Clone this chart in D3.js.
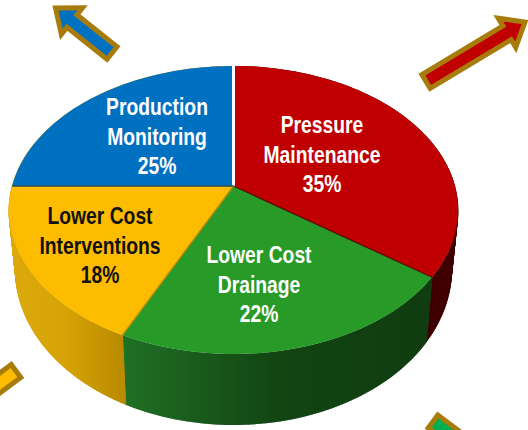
<!DOCTYPE html>
<html><head><meta charset="utf-8">
<script src="https://cdn.jsdelivr.net/npm/d3@7"></script>
<style>html,body{margin:0;padding:0;background:#fff}svg{display:block}
text{font-family:"Liberation Sans",Arial,sans-serif;font-weight:700}</style>
</head><body><svg id="c" width="528" height="430"></svg>
<script>
const categories = ["Pressure Maintenance","Lower Cost Drainage","Lower Cost Interventions","Production Monitoring"];
const labelLines = [["Pressure","Maintenance"],["Lower Cost","Drainage"],["Lower Cost","Interventions"],["Production","Monitoring"]];
const shares = [35,22,18,25];
const topColors = ["#c00000","#289a28","#fdbc00","#0070c0"];
const textColors = ["#fff","#fff","#111","#fff"];
const edgeColors = ["#ffffff","#5c0a00","#b58a10","#1f5060"];
const labelAnchors = [[322,133],[259,263],[100,224],[157,115]];
const svg = d3.select("#c");

// perspective pie: circle angle -> position on an ellipse with an off-centre apex
const e = 1/6;
const topX = d3.scaleLinear().domain([-1,1]).range([9,458]);
const topY = d3.scaleLinear().domain([-1,1]).range([354,66]);
const botX = d3.scaleLinear().domain([-1,1]).range([15.5,451.5]);
const botY = d3.scaleLinear().domain([-1,1]).range([425,115]);
const unit = a => {
  const d = 1+e*Math.cos(a);
  return [Math.sin(a)*Math.sqrt(1-e*e)/d,(Math.cos(a)+e)/d];
};
const topP = a => { const u=unit(a); return [topX(u[0]),topY(u[1])]; };
const botP = a => { const u=unit(a); return [botX(u[0]),botY(u[1])]; };
const apex = [topX(0),topY(e)];
const line = d3.line();
const pie = d3.pie().sort(null).value(d=>d)(shares);
const samples = (p,n=60) => d3.range(0,n+1).map(i=>p.startAngle+(p.endAngle-p.startAngle)*i/n);

// gradients for the wall
const defs = svg.append("defs");
const grad = (id,x1,x2,stops)=>{
  const g=defs.append("linearGradient").attr("id",id).attr("gradientUnits","userSpaceOnUse")
    .attr("x1",x1).attr("x2",x2).attr("y1",0).attr("y2",0);
  stops.forEach(s=>g.append("stop").attr("offset",s[0]).attr("stop-color",s[1]));
};
grad("w0",425,460,[[0,"#3e0000"],[1,"#3e0000"]]);
grad("w1",122,432,[[0,"#1f7125"],[.25,"#1a5a1c"],[.5,"#114512"],[1,"#103c10"]]);
grad("w2",9,125,[[0,"#dcaa0c"],[.5,"#d5a305"],[1,"#b98a00"]]);
grad("w3",9,233,[[0,"#dcaa0c"],[1,"#dcaa0c"]]);

// wall: filled band plus the ruled lines that carry its outline
const wall = svg.append("g").selectAll("g").data(pie).join("g");
wall.append("path")
  .attr("d",p=>{
    const A=samples(p);
    return line(A.map(topP).concat(A.slice().reverse().map(botP)))+"Z";
  })
  .attr("fill",(p,i)=>`url(#w${i})`);
wall.append("path")
  .attr("d",p=>samples(p,200).map(a=>line([topP(a),botP(a)])).join(""))
  .attr("fill","none")
  .attr("stroke",(p,i)=>`url(#w${i})`).attr("stroke-width",1);

// top face
svg.append("g").selectAll("path").data(pie).join("path")
  .attr("d",p=>line([apex].concat(samples(p).map(topP)))+"Z")
  .attr("fill",(p,i)=>topColors[i]);

// slice separators
svg.append("g").selectAll("line").data(pie).join("line")
  .attr("x1",apex[0]).attr("y1",apex[1])
  .attr("x2",p=>topP(p.startAngle)[0]).attr("y2",p=>topP(p.startAngle)[1])
  .attr("stroke",(p,i)=>edgeColors[i])
  .attr("stroke-width",(p,i)=>i===0?3:1.3);

// labels
const labels = svg.append("g").selectAll("g").data(pie).join("g")
  .attr("transform",(p,i)=>`translate(${labelAnchors[i][0]},${labelAnchors[i][1]}) scale(.84,1)`)
  .attr("fill",(p,i)=>textColors[i]).attr("font-size",23).attr("text-anchor","middle");
labels.selectAll("text").data((p,i)=>labelLines[i].concat([p.value+"%"])).join("text")
  .attr("y",(d,j)=>j*29.7).text(d=>d);

// decorative arrows
const arrows = [
  {tail:[112,53],tip:[55.5,8],fill:"#0070c0"},
  {tail:[426,81.5],tip:[525,22],fill:"#c00000"},
  {tail:[16,371],tip:[-50,420],fill:"#fdbc00"},
  {tail:[433,421.5],tip:[498,470],fill:"#00b050"}
];
const arrowPts = (t,h)=>{
  const dx=h[0]-t[0],dy=h[1]-t[1],L=Math.hypot(dx,dy),u=[dx/L,dy/L],n=[-u[1],u[0]];
  const s=8,w=17,hl=21;
  const at=(al,off)=>[t[0]+u[0]*al+n[0]*off,t[1]+u[1]*al+n[1]*off];
  return [at(0,s),at(L-hl,s),at(L-hl,w),at(L,0),at(L-hl,-w),at(L-hl,-s),at(0,-s)];
};
svg.append("g").selectAll("path").data(arrows).join("path")
  .attr("d",a=>line(arrowPts(a.tail,a.tip))+"Z")
  .attr("fill",a=>a.fill).attr("stroke","#a87c0c").attr("stroke-width",5)
  .attr("stroke-linejoin","miter").attr("stroke-miterlimit",6);
</script></body></html>
